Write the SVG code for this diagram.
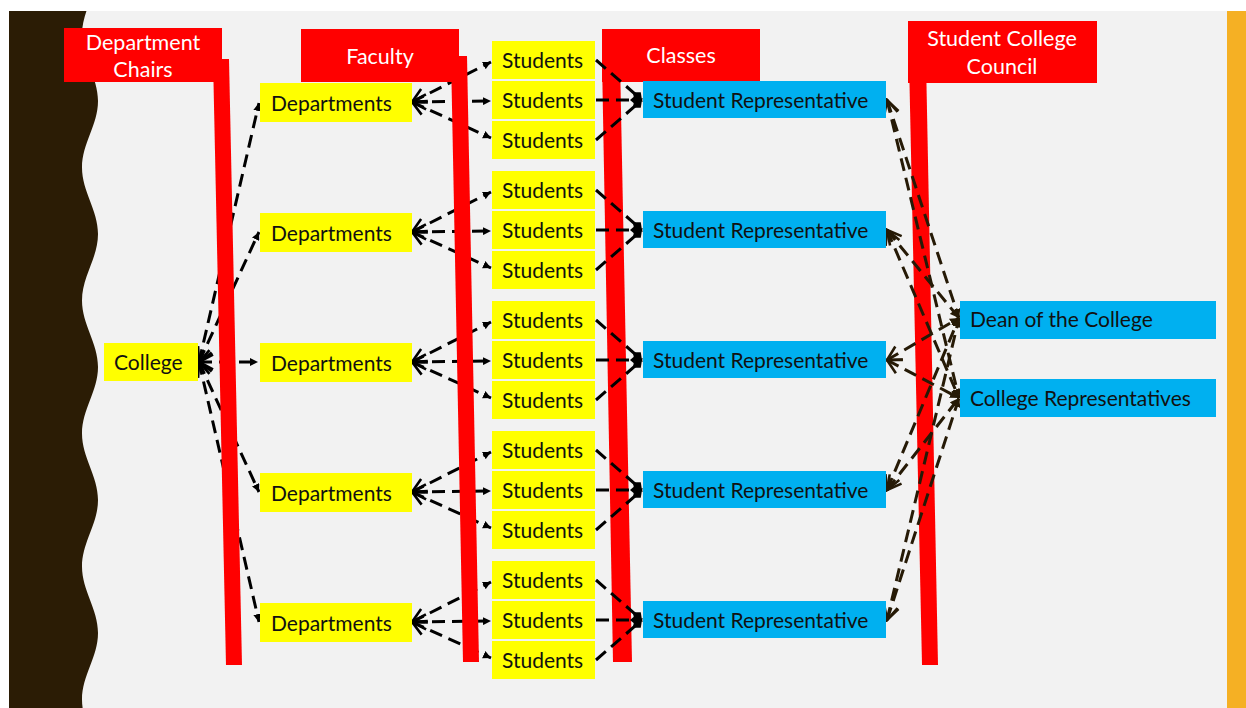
<svg xmlns="http://www.w3.org/2000/svg" width="1246" height="708" viewBox="0 0 1246 708">
<defs>
<style>
.hdr{fill:#ff0000}
.ht{fill:#ffffff;font-family:Lato,"Liberation Sans",sans-serif;font-size:21.5px;text-anchor:middle}
.y{fill:#ffff00}
.b{fill:#00b0f0}
.t{fill:#111111;font-family:Lato,"Liberation Sans",sans-serif;font-size:21px}
.c{stroke:#000;stroke-width:3;stroke-dasharray:13 7;fill:none}
.cb{stroke:#261a06;stroke-width:3;stroke-dasharray:13 7;fill:none}
.a1{marker-start:url(#open);marker-end:url(#tri)}
.a2{marker-end:url(#dia)}
.a3{marker-start:url(#openb);marker-end:url(#trib)}
</style>
<marker id="tri" viewBox="0 0 10 10" refX="10" refY="5" markerWidth="8" markerHeight="8" markerUnits="userSpaceOnUse" orient="auto"><path d="M0,0 L10,5 L0,10 Z" fill="#000"/></marker>
<marker id="trib" viewBox="0 0 10 10" refX="10" refY="5" markerWidth="9" markerHeight="9" markerUnits="userSpaceOnUse" orient="auto"><path d="M0,0 L10,5 L0,10 Z" fill="#261a06"/></marker>
<marker id="open" viewBox="-2 -9 18 18" refX="0" refY="0" markerWidth="18" markerHeight="18" markerUnits="userSpaceOnUse" orient="auto"><path d="M14,-7.5 L0,0 L14,7.5" fill="none" stroke="#000" stroke-width="2.6"/></marker>
<marker id="openb" viewBox="-2 -9 18 18" refX="0" refY="0" markerWidth="18" markerHeight="18" markerUnits="userSpaceOnUse" orient="auto"><path d="M14,-7.5 L0,0 L14,7.5" fill="none" stroke="#261a06" stroke-width="2.6"/></marker>
<marker id="dia" viewBox="0 -6 12 12" refX="12" refY="0" markerWidth="12" markerHeight="12" markerUnits="userSpaceOnUse" orient="auto"><path d="M0,0 L6,-5 L12,0 L6,5 Z" fill="#000"/></marker>
<clipPath id="slide"><rect x="9" y="11" width="1218" height="697"/></clipPath>
</defs>

<g id="background">
<rect x="0" y="0" width="1246" height="708" fill="#ffffff"/>
<rect x="9" y="11" width="1218" height="697" fill="#f2f2f2"/>
<path clip-path="url(#slide)" fill="#2b1c05" d="M0,-32 L98,-32 C98,-7.8 82,10.3 82,34.5 S98,76.8 98,101 S82,143.3 82,167.5 S98,209.8 98,234 S82,276.3 82,300.5 S98,342.8 98,367 S82,409.3 82,433.5 S98,475.8 98,500 S82,542.3 82,566.5 S98,608.8 98,633 S82,675.3 82,699.5 S98,741.8 98,766 L0,766 Z"/>
<rect x="1227" y="11" width="19" height="697" fill="#f5b024"/>
</g>

<g id="hdr-classes">
<polygon class="hdr" points="602,60 620,60 632,662 613,662"/>
<rect class="hdr" x="602" y="29" width="158" height="53"/>
<text class="ht" x="681" y="63">Classes</text>
</g>
<g id="hdr-council">
<polygon class="hdr" points="909,60 926,60 938,665 922,665"/>
<rect class="hdr" x="908" y="21" width="189" height="62"/>
<text class="ht" x="1002" y="46">Student College</text>
<text class="ht" x="1002" y="74">Council</text>
</g>

<g id="connectors">
<path class="c a1" d="M199,362 L259,103"/>
<path class="c a1" d="M199,362 L259,232"/>
<path class="c a1" d="M199,362 L258,362"/>
<path class="c a1" d="M199,362 L259,492"/>
<path class="c a1" d="M199,362 L259,622"/>

<path class="c a1" d="M412,102 L491,62"/>
<path class="c a1" d="M412,102 L491,101"/>
<path class="c a1" d="M412,102 L491,138"/>
<path class="c a1" d="M412,232 L491,192"/>
<path class="c a1" d="M412,232 L491,231"/>
<path class="c a1" d="M412,232 L491,268"/>
<path class="c a1" d="M412,362 L491,322"/>
<path class="c a1" d="M412,362 L491,361"/>
<path class="c a1" d="M412,362 L491,398"/>
<path class="c a1" d="M412,492 L491,452"/>
<path class="c a1" d="M412,492 L491,491"/>
<path class="c a1" d="M412,492 L491,528"/>
<path class="c a1" d="M412,622 L491,582"/>
<path class="c a1" d="M412,622 L491,621"/>
<path class="c a1" d="M412,622 L491,658"/>

<path class="c a2" d="M596,60 L642,100"/>
<path class="c a2" d="M596,100 L642,100"/>
<path class="c a2" d="M596,140 L642,100"/>
<path class="c a2" d="M596,190 L642,230"/>
<path class="c a2" d="M596,230 L642,230"/>
<path class="c a2" d="M596,270 L642,230"/>
<path class="c a2" d="M596,320 L642,360"/>
<path class="c a2" d="M596,360 L642,360"/>
<path class="c a2" d="M596,400 L642,360"/>
<path class="c a2" d="M596,450 L642,490"/>
<path class="c a2" d="M596,490 L642,490"/>
<path class="c a2" d="M596,530 L642,490"/>
<path class="c a2" d="M596,580 L642,620"/>
<path class="c a2" d="M596,620 L642,620"/>
<path class="c a2" d="M596,660 L642,620"/>

<path class="cb a3" d="M887,100 L959,318"/>
<path class="cb a3" d="M887,100 L959,398"/>
<path class="cb a3" d="M887,230 L959,318"/>
<path class="cb a3" d="M887,230 L959,398"/>
<path class="cb a3" d="M887,360 L959,318"/>
<path class="cb a3" d="M887,360 L959,398"/>
<path class="cb a3" d="M887,490 L959,318"/>
<path class="cb a3" d="M887,490 L959,398"/>
<path class="cb a3" d="M887,620 L959,318"/>
<path class="cb a3" d="M887,620 L959,398"/>
</g>

<g id="hdr-chairs">
<polygon class="hdr" points="213,59 229,59 242,665 226,665"/>
<rect class="hdr" x="64" y="28" width="158" height="54"/>
<text class="ht" x="143" y="50">Department</text>
<text class="ht" x="143" y="77">Chairs</text>
</g>
<g id="hdr-faculty">
<polygon class="hdr" points="451,56 467,56 479,662 463,662"/>
<rect class="hdr" x="301" y="29" width="158" height="53"/>
<text class="ht" x="380" y="64">Faculty</text>
</g>

<g id="college"><rect class="y" x="104" y="343" width="94" height="38"/><text class="t" x="114" y="370">College</text></g>

<g id="dept1"><rect class="y" x="260" y="83" width="152" height="39"/><text class="t" x="271" y="111">Departments</text></g>
<g id="dept2"><rect class="y" x="260" y="213" width="152" height="39"/><text class="t" x="271" y="241">Departments</text></g>
<g id="dept3"><rect class="y" x="260" y="343" width="152" height="39"/><text class="t" x="271" y="371">Departments</text></g>
<g id="dept4"><rect class="y" x="260" y="473" width="152" height="39"/><text class="t" x="271" y="501">Departments</text></g>
<g id="dept5"><rect class="y" x="260" y="603" width="152" height="39"/><text class="t" x="271" y="631">Departments</text></g>

<g id="s1a"><rect class="y" x="492" y="41" width="103" height="38"/><text class="t" x="502" y="68">Students</text></g>
<g id="s1b"><rect class="y" x="492" y="81" width="103" height="38"/><text class="t" x="502" y="108">Students</text></g>
<g id="s1c"><rect class="y" x="492" y="121" width="103" height="38"/><text class="t" x="502" y="148">Students</text></g>
<g id="s2a"><rect class="y" x="492" y="171" width="103" height="38"/><text class="t" x="502" y="198">Students</text></g>
<g id="s2b"><rect class="y" x="492" y="211" width="103" height="38"/><text class="t" x="502" y="238">Students</text></g>
<g id="s2c"><rect class="y" x="492" y="251" width="103" height="38"/><text class="t" x="502" y="278">Students</text></g>
<g id="s3a"><rect class="y" x="492" y="301" width="103" height="38"/><text class="t" x="502" y="328">Students</text></g>
<g id="s3b"><rect class="y" x="492" y="341" width="103" height="38"/><text class="t" x="502" y="368">Students</text></g>
<g id="s3c"><rect class="y" x="492" y="381" width="103" height="38"/><text class="t" x="502" y="408">Students</text></g>
<g id="s4a"><rect class="y" x="492" y="431" width="103" height="38"/><text class="t" x="502" y="458">Students</text></g>
<g id="s4b"><rect class="y" x="492" y="471" width="103" height="38"/><text class="t" x="502" y="498">Students</text></g>
<g id="s4c"><rect class="y" x="492" y="511" width="103" height="38"/><text class="t" x="502" y="538">Students</text></g>
<g id="s5a"><rect class="y" x="492" y="561" width="103" height="38"/><text class="t" x="502" y="588">Students</text></g>
<g id="s5b"><rect class="y" x="492" y="601" width="103" height="38"/><text class="t" x="502" y="628">Students</text></g>
<g id="s5c"><rect class="y" x="492" y="641" width="103" height="38"/><text class="t" x="502" y="668">Students</text></g>

<g id="rep1"><rect class="b" x="643" y="81" width="243" height="37"/><text class="t" x="653" y="108">Student Representative</text></g>
<g id="rep2"><rect class="b" x="643" y="211" width="243" height="37"/><text class="t" x="653" y="238">Student Representative</text></g>
<g id="rep3"><rect class="b" x="643" y="341" width="243" height="37"/><text class="t" x="653" y="368">Student Representative</text></g>
<g id="rep4"><rect class="b" x="643" y="471" width="243" height="37"/><text class="t" x="653" y="498">Student Representative</text></g>
<g id="rep5"><rect class="b" x="643" y="601" width="243" height="37"/><text class="t" x="653" y="628">Student Representative</text></g>

<g id="dean"><rect class="b" x="960" y="301" width="256" height="38"/><text class="t" x="970" y="327">Dean of the College</text></g>
<g id="college-reps"><rect class="b" x="960" y="379" width="256" height="38"/><text class="t" x="970" y="406">College Representatives</text></g>
</svg>
